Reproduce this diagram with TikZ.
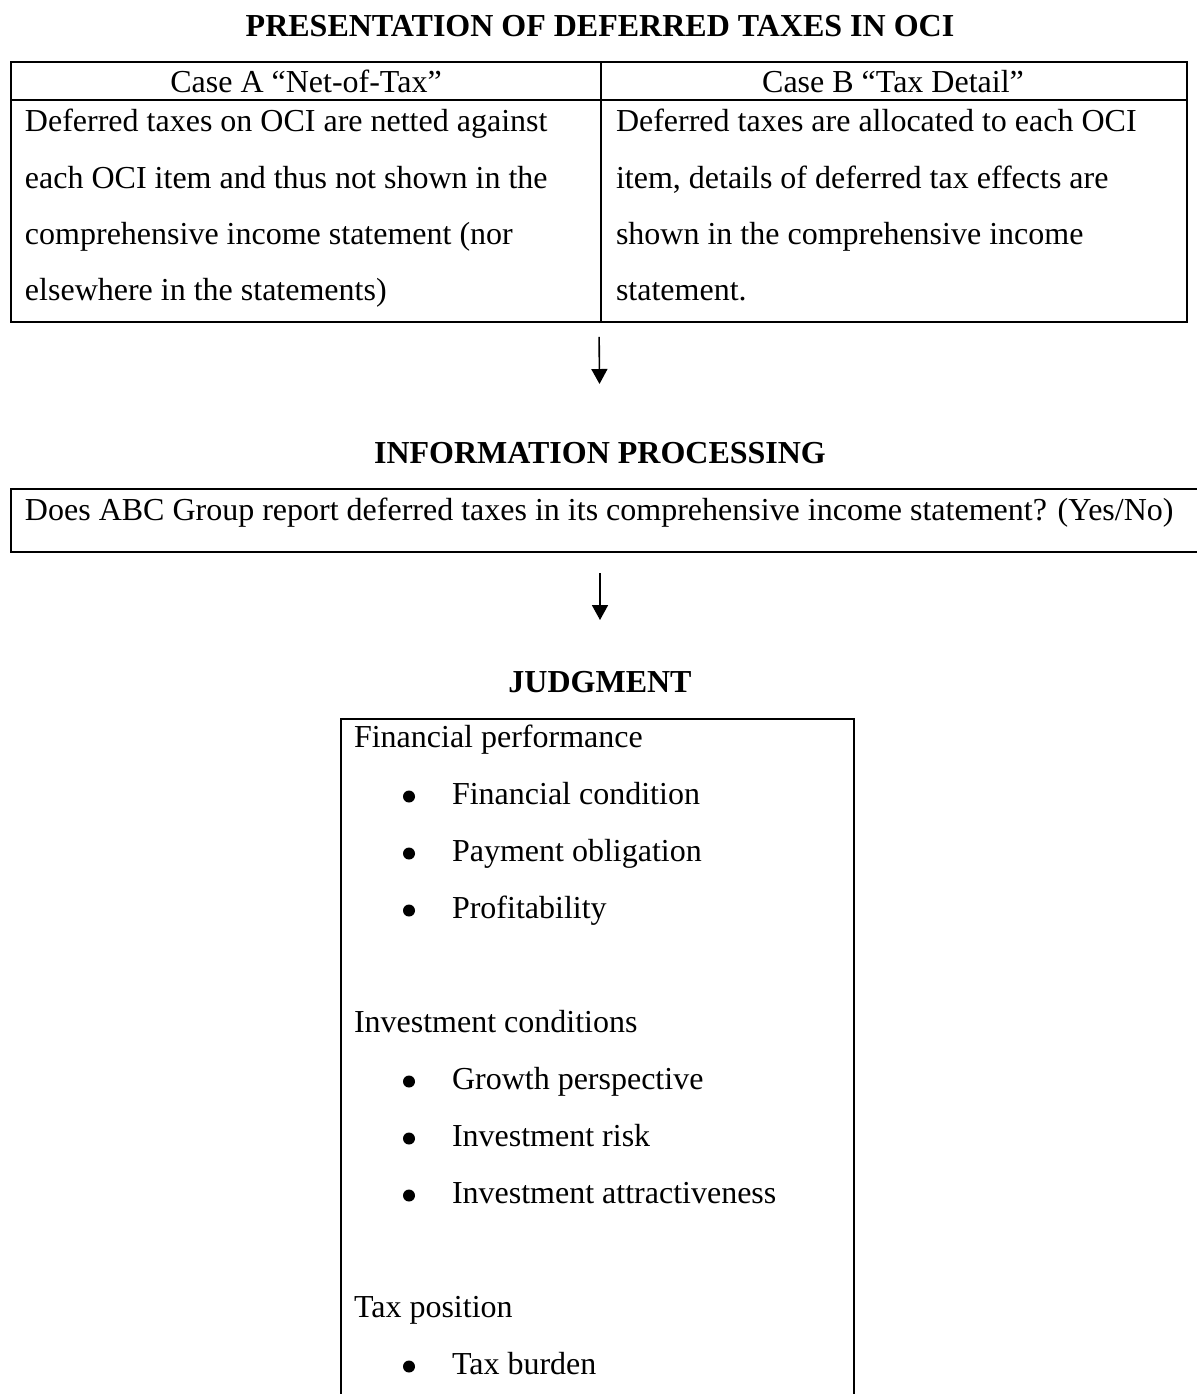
\documentclass[12pt,tikz,border=0pt]{standalone}
\usepackage{fontspec}
\setmainfont{Liberation Serif}
\usetikzlibrary{arrows.meta}
\begin{document}
\begin{tikzpicture}[x=0.375pt, y=-0.375pt,
  every node/.style={inner sep=0pt, outer sep=0pt, font=\fontsize{12}{14}\selectfont},
  frame/.style={draw, line width=0.9pt, anchor=north west},
  rule/.style={line width=0.9pt},
  heading/.style={font=\fontsize{12}{14}\selectfont\bfseries, anchor=base, text height=8.25pt},
  txt/.style={anchor=base west},
  ctxt/.style={anchor=base},
  arr/.style={-{Triangle[length=5.6pt,width=6pt]}, line width=0.6pt},
  bul/.style={circle, fill, minimum size=4.5pt}
]
\useasboundingbox (0,0) rectangle (1197,1394);
\clip (0,0) rectangle (1197,1394);
\fill[white] (0,0) rectangle (1197,1394);

% ---- Presentation ----
\node[heading] (t1) at (600,36) {PRESENTATION OF DEFERRED TAXES IN OCI};
\node[frame, minimum width=441pt, minimum height=97.5pt] (tab) at (11,62) {};
\draw[rule] (11,100) -- (1187,100);
\draw[rule] (601,62) -- (601,322);
\node[ctxt] (ha) at (306,92) {Case A “Net-of-Tax”};
\node[ctxt] (hb) at (893,92) {Case B “Tax Detail”};
\node[txt] (a1) at (25,131) {Deferred taxes on OCI are netted against};
\node[txt] (a2) at (25,188) {each OCI item and thus not shown in the};
\node[txt] (a3) at (25,244) {comprehensive income statement (nor};
\node[txt] (a4) at (25,300) {elsewhere in the statements)};
\node[txt] (b1) at (616,131) {Deferred taxes are allocated to each OCI};
\node[txt] (b2) at (616,188) {item, details of deferred tax effects are};
\node[txt] (b3) at (616,244) {shown in the comprehensive income};
\node[txt] (b4) at (616,300) {statement.};

% ---- Information processing ----
\node[heading] (ip) at (600,463) {INFORMATION PROCESSING};
\draw[arr, shorten <=5.6pt, shorten >=21.4pt] (tab.south) -- (ip.north);
\node[frame, minimum width=450pt, minimum height=23.6pt] (info) at (11,489) {};
\node[txt] (q) at (25,520) {Does ABC Group report deferred taxes in its comprehensive income statement? (Yes/No)};

% ---- Judgment ----
\node[heading] (jt) at (600,692) {JUDGMENT};
\draw[arr, shorten <=7.9pt, shorten >=18.75pt] (info.south -| jt.north) -- (jt.north);
\node[frame, minimum width=192.4pt, minimum height=270pt] (jb) at (341,719) {};
\node[txt] (h1) at (354,747) {Financial performance};
\node[txt] (h2) at (354,1032) {Investment conditions};
\node[txt] (h3) at (354,1317) {Tax position};
\foreach \t/\y [count=\i] in {Financial condition/804, Payment obligation/861, Profitability/918,
  Growth perspective/1089, Investment risk/1146, Investment attractiveness/1203, Tax burden/1374}{
  \node[bul] (dot\i) at (409,\y-7.5) {};
  \node[txt] (item\i) at (452,\y) {\t};
}
\end{tikzpicture}
\end{document}
